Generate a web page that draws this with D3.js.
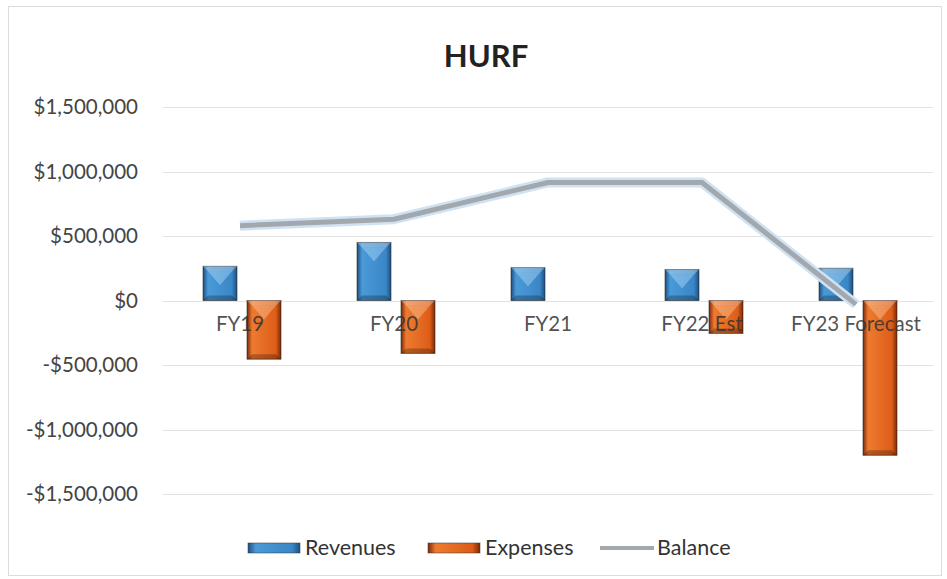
<!doctype html>
<meta charset="utf-8">
<title>HURF</title>
<script src="https://cdn.jsdelivr.net/npm/d3@7/dist/d3.min.js"></script>
<style>
  body { margin: 0; background: #fff; }
  text { font-family: Lato, "Open Sans", sans-serif; }
</style>
<div id="chart"></div>
<script>
  // data
  const years = ["FY19", "FY20", "FY21", "FY22 Est", "FY23 Forecast"]
  const revenues = [265000, 450000, 255000, 240000, 250000]
  const expenses = [-455000, -410000, 0, -255000, -1200000]
  const balance = [580000, 630000, 915000, 915000, -30000]
  const yTicks = [-1500000, -1000000, -500000, 0, 500000, 1000000, 1500000]

  const W = 947, H = 579
  const svg = d3.select('#chart').append('svg')
    .attr('width', W).attr('height', H)

  // chart border
  svg.append('rect')
    .attr('x', 8.5).attr('y', 6.5)
    .attr('width', W - 14).attr('height', H - 10)
    .attr('fill', '#fff').attr('stroke', '#dcdcdc')

  const x = d3.scaleBand().domain(years).range([163, 933])
  const y = d3.scaleLinear().domain([-1500000, 1500000]).range([494, 107])

  const defs = svg.append('defs')
  const grad = (id, c1, c2, c3) => {
    const g = defs.append('linearGradient').attr('id', id)
      .attr('x1', 0).attr('x2', 1).attr('y1', 0).attr('y2', 0)
    g.append('stop').attr('offset', '0%').attr('stop-color', c3)
    g.append('stop').attr('offset', '15%').attr('stop-color', c1)
    g.append('stop').attr('offset', '85%').attr('stop-color', c2)
    g.append('stop').attr('offset', '100%').attr('stop-color', c3)
  }
  grad('gRev', '#4a9ad8', '#3a86c6', '#1d4f80')
  grad('gExp', '#ee7a30', '#dd5d18', '#7a2a08')

  // gridlines
  svg.append('g').selectAll('line')
    .data(yTicks)
    .join('line')
    .attr('x1', 163).attr('x2', 933)
    .attr('y1', d => Math.round(y(d)) + 0.5)
    .attr('y2', d => Math.round(y(d)) + 0.5)
    .attr('stroke', '#e2e2e2')

  // y axis labels
  const fmt = d => (d < 0 ? '-' : '') + '$' + d3.format(',')(Math.abs(d))
  svg.append('g').selectAll('text')
    .data(yTicks)
    .join('text')
    .attr('x', 138)
    .attr('y', d => y(d) + 7)
    .attr('text-anchor', 'end')
    .attr('font-size', 20.5)
    .attr('fill', '#444')
    .text(fmt)

  // bevelled bars
  const barW = 34
  const drawBars = (vals, off, fillId, hi) => {
    const g = svg.append('g')
    vals.forEach((v, i) => {
      if (v === 0) return
      const x0 = x(years[i]) + x.bandwidth() / 2 + off
      const y0 = Math.min(y(v), y(0)), h = Math.abs(y(v) - y(0))
      g.append('rect')
        .attr('x', x0).attr('y', y0).attr('width', barW).attr('height', h)
        .attr('fill', `url(#${fillId})`)
        .attr('stroke', '#222').attr('stroke-opacity', 0.55)
      const b = 5
      const tip = Math.min(h * 0.45, 14)
      // soft highlight near the top edge
      g.append('path')
        .attr('d', `M${x0 + b},${y0 + b} L${x0 + barW / 2},${y0 + b + tip} L${x0 + barW - b},${y0 + b} Z`)
        .attr('fill', hi).attr('opacity', 0.4)
      g.append('path')
        .attr('d', `M${x0},${y0} L${x0 + barW},${y0} L${x0 + barW - b},${y0 + b} L${x0 + b},${y0 + b} Z`)
        .attr('fill', '#fff').attr('opacity', 0.3)
      g.append('path')
        .attr('d', `M${x0},${y0 + h} L${x0 + barW},${y0 + h} L${x0 + barW - b},${y0 + h - b} L${x0 + b},${y0 + h - b} Z`)
        .attr('fill', '#000').attr('opacity', 0.25)
    })
  }
  drawBars(revenues, -37, 'gRev', '#bfe3ff')
  drawBars(expenses, 7, 'gExp', '#ffd3a8')

  // category labels (drawn over the bars)
  svg.append('g').selectAll('text')
    .data(years)
    .join('text')
    .attr('x', d => x(d) + x.bandwidth() / 2)
    .attr('y', y(0) + 30)
    .attr('text-anchor', 'middle')
    .attr('font-size', 20.5)
    .attr('fill', '#333')
    .attr('fill-opacity', 0.85)
    .text(d => d)

  // balance line
  const line = d3.line()
    .x((d, i) => x(years[i]) + x.bandwidth() / 2)
    .y(d => y(d))
  svg.append('path')
    .attr('d', line(balance))
    .attr('fill', 'none')
    .attr('stroke', '#cfe2f3')
    .attr('stroke-width', 10)
    .attr('stroke-linejoin', 'round')
  svg.append('path')
    .attr('d', line(balance))
    .attr('fill', 'none')
    .attr('stroke', '#a3a8ae')
    .attr('stroke-width', 5)
    .attr('stroke-linejoin', 'round')

  // title
  svg.append('text')
    .attr('x', 486).attr('y', 67)
    .attr('text-anchor', 'middle')
    .attr('font-size', 31)
    .attr('font-weight', 'bold')
    .attr('fill', '#222')
    .text('HURF')

  // legend
  const leg = svg.append('g')
  const items = [
    { name: 'Revenues', x: 248, fill: 'url(#gRev)' },
    { name: 'Expenses', x: 428, fill: 'url(#gExp)' },
    { name: 'Balance', x: 600, line: true }
  ]
  items.forEach(it => {
    if (it.line) {
      leg.append('line')
        .attr('x1', it.x).attr('x2', it.x + 54)
        .attr('y1', 548).attr('y2', 548)
        .attr('stroke', '#a3a8ae').attr('stroke-width', 4)
    } else {
      leg.append('rect')
        .attr('x', it.x).attr('y', 543).attr('width', 52).attr('height', 10)
        .attr('fill', it.fill).attr('stroke', '#333').attr('stroke-opacity', 0.5)
    }
    leg.append('text')
      .attr('x', it.x + 57).attr('y', 555)
      .attr('font-size', 21.5)
      .attr('fill', '#333')
      .text(it.name)
  })
</script>
